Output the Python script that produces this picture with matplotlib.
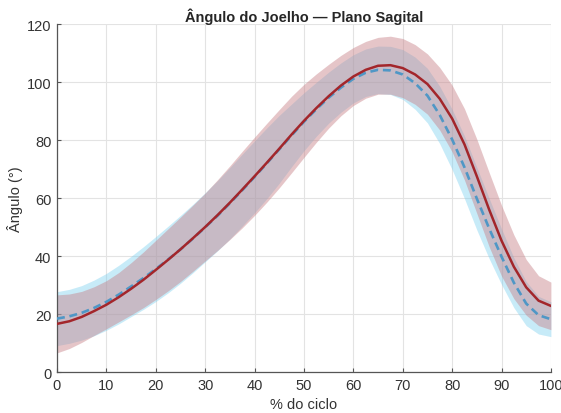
import numpy as np
import matplotlib
matplotlib.use("Agg")
import matplotlib.pyplot as plt

plt.rcParams['font.family'] = ['Liberation Sans', 'DejaVu Sans']

# Gait cycle (% of cycle)
ciclo = np.arange(0, 100.1, 2.5)

# Knee flexion angle, series A (solid): mean and standard deviation (deg)
media_a = [16.6, 17.5, 19.0, 21.0, 23.2, 25.8, 28.7, 31.8, 35.2, 38.7,
           42.3, 46.1, 50.0, 54.1, 58.4, 62.9, 67.5, 72.2, 77.0, 81.9,
           86.6, 91.0, 95.1, 98.8, 101.9, 104.2, 105.6, 105.8, 104.8, 102.6,
           99.3, 94.2, 87.4, 78.5, 67.5, 56.0, 45.3, 36.3, 29.2, 24.6, 22.8]
dp_a = [10.0, 9.4, 8.8, 8.4, 8.3, 8.5, 9.0, 9.6, 10.2, 10.7,
        11.1, 11.4, 11.7, 12.2, 12.7, 13.2, 13.5, 13.6, 13.5, 13.2,
        12.6, 11.8, 11.0, 10.4, 10.0, 9.8, 9.8, 10.0, 10.2, 10.3,
        10.4, 10.8, 11.5, 12.3, 12.8, 12.8, 12.2, 11.0, 9.6, 8.6, 8.2]

# Knee flexion angle, series B (dashed): mean and standard deviation (deg)
media_b = [18.4, 19.2, 20.4, 22.1, 24.2, 26.7, 29.5, 32.4, 35.5, 38.8,
           42.3, 46.0, 49.9, 53.9, 58.2, 62.7, 67.3, 72.0, 76.8, 81.6,
           86.3, 90.6, 94.6, 98.1, 101.1, 103.2, 104.2, 104.0, 102.6, 99.6,
           95.3, 88.6, 80.2, 70.6, 59.8, 49.5, 39.8, 30.8, 23.6, 19.6, 18.2]
dp_b = [9.3, 9.3, 9.4, 9.6, 9.8, 10.1, 10.4, 10.8, 11.2, 11.5,
        11.7, 11.8, 11.9, 12.1, 12.3, 12.4, 12.4, 12.2, 11.7, 10.8,
        10.0, 9.3, 8.8, 8.5, 8.3, 8.2, 8.2, 8.3, 8.6, 9.0,
        9.4, 9.9, 10.4, 10.8, 10.8, 10.4, 9.6, 8.6, 7.6, 6.5, 6.0]

x_ticks = [0, 10, 20, 30, 40, 50, 60, 70, 80, 90, 100]
y_ticks = [0, 20, 40, 60, 80, 100, 120]

ma, sa = np.array(media_a), np.array(dp_a)
mb, sb = np.array(media_b), np.array(dp_b)

fig = plt.figure(figsize=(5.61, 4.14), dpi=100)
ax = fig.add_axes([0.1016, 0.099, 0.8804, 0.8406])

# +/- 1 SD bands, then the mean curves
ax.fill_between(ciclo, mb - sb, mb + sb, color='#75cdee', alpha=0.40,
                linewidth=0, zorder=1)
ax.fill_between(ciclo, ma - sa, ma + sa, color='#c78087', alpha=0.45,
                linewidth=0, zorder=2)
ax.plot(ciclo, mb, color='#4f97c6', lw=1.9, ls=(0, (3.0, 1.8)), zorder=3)
ax.plot(ciclo, ma, color='#a3262b', lw=1.8, zorder=4)

ax.set_xlim(0, 100)
ax.set_ylim(0, 120)
ax.set_xticks(x_ticks)
ax.set_yticks(y_ticks)
ax.grid(True, color='#e3e3e3', lw=0.8)
ax.set_axisbelow(True)
for s in ('top', 'right'):
    ax.spines[s].set_visible(False)
for s in ('left', 'bottom'):
    ax.spines[s].set_color('#555555')
    ax.spines[s].set_linewidth(0.9)
ax.tick_params(direction='in', length=3, width=0.8, colors='#555555',
               labelcolor='#333333', labelsize=10.5, pad=4)

ax.set_title('Ângulo do Joelho — Plano Sagital', fontsize=10.5,
             fontweight='bold', color='#262626', pad=2)
ax.set_xlabel('% do ciclo', fontsize=10.5, color='#333333', labelpad=4)
ax.set_ylabel('Ângulo (°)', fontsize=10.5, color='#333333', labelpad=3)

fig.savefig('out.png', dpi=100)
